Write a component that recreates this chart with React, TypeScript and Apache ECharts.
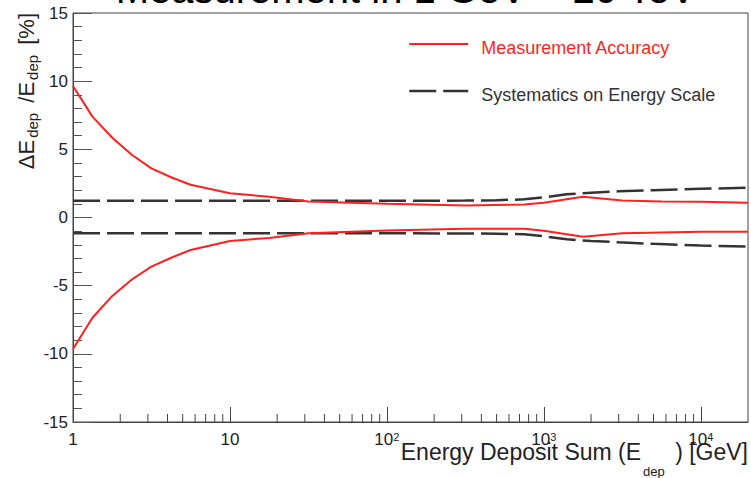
import React, { useEffect, useRef } from "react";
import * as echarts from "echarts";

// ---- data ----
const accuracyEnergy = [1, 1.33, 1.78, 2.37, 3.16, 4.22, 5.62, 10, 17.8, 31.6, 100, 316, 750, 1000, 1780, 3160, 5620, 10000, 20000];
const accuracyUpper = [9.65, 7.4, 5.85, 4.6, 3.6, 2.95, 2.4, 1.78, 1.52, 1.18, 1.0, 0.88, 0.95, 1.08, 1.52, 1.25, 1.17, 1.16, 1.08];
const accuracyLower = [-9.65, -7.35, -5.75, -4.55, -3.6, -2.95, -2.38, -1.72, -1.5, -1.15, -0.95, -0.82, -0.82, -0.98, -1.41, -1.15, -1.1, -1.05, -1.04];

const systematicsEnergy = [1, 100, 316, 500, 750, 1000, 1400, 2000, 3000, 5000, 10000, 20000];
const systematicsUpper = [1.22, 1.22, 1.24, 1.27, 1.33, 1.48, 1.7, 1.82, 1.92, 2.0, 2.1, 2.19];
const systematicsLower = [-1.16, -1.16, -1.17, -1.19, -1.23, -1.38, -1.6, -1.72, -1.82, -1.93, -2.05, -2.14];

const xMin = 1;
const xMax = 20000;
const yMin = -15;
const yMax = 15;
const yInterval = 5;

const decades = [1, 10, 100, 1000, 10000];
const minorMultipliers = [2, 3, 4, 5, 6, 7, 8, 9];

const titleText = "Measurement in 1 GeV ~ 20 TeV";
const legendAccuracy = "Measurement Accuracy";
const legendSystematics = "Systematics on Energy Scale";

const FONT = "'Liberation Sans', Arial, Helvetica, sans-serif";
const RED = "#ff1f1f";
const DARK = "#333333";
const DASH = [27, 7];

function pairs(xs: number[], ys: number[]) {
  return xs.map((x, i) => [x, ys[i]]);
}

export default function App() {
  const ref = useRef<HTMLDivElement>(null);

  useEffect(() => {
    if (!ref.current) return;
    const chart = echarts.init(ref.current, undefined, { renderer: "svg" });

    const minorTicks: number[][] = [];
    decades.forEach((d) => {
      minorMultipliers.forEach((m) => {
        const v = d * m;
        if (v > xMin && v < xMax) minorTicks.push([v, yMin]);
      });
    });

    const option: any = {
      animation: false,
      backgroundColor: "#ffffff",
      textStyle: { fontFamily: FONT },
      grid: {
        left: 73,
        right: 3,
        top: 13,
        bottom: 56,
        show: true,
        borderColor: "#444",
        borderWidth: 1,
        backgroundColor: "transparent",
      },
      legend: {
        data: [
          { name: legendAccuracy, textStyle: { color: RED }, lineStyle: { color: RED, width: 2, type: "solid" } },
          { name: legendSystematics, textStyle: { color: DARK }, lineStyle: { color: DARK, width: 2.5, type: DASH } },
        ],
        orient: "vertical",
        left: 408,
        top: 31,
        padding: 0,
        itemWidth: 59,
        itemHeight: 26,
        itemGap: 21,
        selectedMode: false,
        itemStyle: { opacity: 0 },
        formatter: (name: string) => "{t|" + name + "}",
        textStyle: {
          fontSize: 18,
          fontFamily: FONT,
          rich: {
            t: { fontSize: 18, lineHeight: 18, padding: [8, 0, 0, 8], fontFamily: FONT },
          },
        },
      },
      xAxis: {
        type: "log",
        logBase: 10,
        min: xMin,
        max: xMax,
        axisLine: { show: true, onZero: false, lineStyle: { color: "#444", width: 1 } },
        axisTick: { show: true, inside: true, length: 15, lineStyle: { color: "#444" } },
        splitLine: { show: false },
        axisLabel: {
          margin: 9,
          showMaxLabel: false,
          color: "#222",
          fontSize: 17,
          fontFamily: FONT,
          formatter: (value: number) => {
            const e = Math.round(Math.log10(value));
            if (Math.abs(Math.pow(10, e) - value) > 1e-6 * value) return "";
            if (e === 0) return "{b|1}";
            if (e === 1) return "{b|10}";
            return "{b|10}{sup|" + e + "}";
          },
          rich: {
            b: { fontSize: 17, lineHeight: 20, verticalAlign: "top", color: "#222", fontFamily: FONT },
            sup: { fontSize: 11, lineHeight: 11, verticalAlign: "top", color: "#222", fontFamily: FONT },
          },
        },
      },
      yAxis: {
        type: "value",
        min: yMin,
        max: yMax,
        interval: yInterval,
        axisLine: { show: true, onZero: false, lineStyle: { color: "#444", width: 1 } },
        axisTick: { show: true, inside: true, length: 19, lineStyle: { color: "#555" } },
        minorTick: { show: true, splitNumber: 5, length: 9, lineStyle: { color: "#555" } },
        splitLine: { show: false },
        axisLabel: { margin: 5, color: "#222", fontSize: 17, fontFamily: FONT },
      },
      series: [
        {
          name: legendAccuracy,
          type: "line",
          data: pairs(accuracyEnergy, accuracyUpper),
          symbol: "none",
          lineStyle: { color: RED, width: 2 },
          itemStyle: { color: RED },
          z: 3,
        },
        {
          name: legendAccuracy,
          type: "line",
          data: pairs(accuracyEnergy, accuracyLower),
          symbol: "none",
          lineStyle: { color: RED, width: 2 },
          itemStyle: { color: RED },
          z: 3,
        },
        {
          name: legendSystematics,
          type: "line",
          data: pairs(systematicsEnergy, systematicsUpper),
          symbol: "none",
          lineStyle: { color: DARK, width: 2.5, type: DASH },
          itemStyle: { color: DARK },
          z: 2,
        },
        {
          name: legendSystematics,
          type: "line",
          data: pairs(systematicsEnergy, systematicsLower),
          symbol: "none",
          lineStyle: { color: DARK, width: 2.5, type: DASH },
          itemStyle: { color: DARK },
          z: 2,
        },
        {
          name: "minorTicks",
          type: "custom",
          silent: true,
          clip: false,
          data: minorTicks,
          encode: { x: 0, y: 1 },
          renderItem: (_params: any, api: any) => {
            const p = api.coord([api.value(0), api.value(1)]);
            return {
              type: "line",
              shape: { x1: p[0], y1: p[1], x2: p[0], y2: p[1] - 8 },
              style: { stroke: "#444", lineWidth: 1 },
            };
          },
          z: 4,
        },
      ],
      graphic: [
        {
          type: "text",
          x: 406,
          y: 9,
          style: {
            text: titleText,
            fontSize: 40,
            fontFamily: FONT,
            fill: "#000",
            align: "center",
            verticalAlign: "bottom",
          },
        },
        {
          type: "text",
          x: 27,
          y: 13,
          rotation: Math.PI / 2,
          style: {
            text: "{m|ΔE}{s|dep}{m| /E}{s|dep}{m| [%]}",
            align: "right",
            verticalAlign: "middle",
            fill: "#222",
            rich: {
              m: { fontSize: 22, lineHeight: 24, verticalAlign: "top", fontFamily: FONT, fill: "#222" },
              s: { fontSize: 15, lineHeight: 15, padding: [10, 4, 0, 2], verticalAlign: "top", fontFamily: FONT, fill: "#222" },
            },
          },
        },
        {
          type: "text",
          x: 748,
          y: 440,
          style: {
            text: "{m|Energy Deposit Sum (E}{s|dep}{m| ) [GeV]}",
            align: "right",
            verticalAlign: "top",
            fill: "#222",
            rich: {
              m: { fontSize: 23, lineHeight: 24, verticalAlign: "top", fontFamily: FONT, fill: "#222" },
              s: { fontSize: 13, lineHeight: 13, padding: [25, 4, 0, 2], verticalAlign: "top", fontFamily: FONT, fill: "#222" },
            },
          },
        },
      ],
    };

    chart.setOption(option);
    return () => chart.dispose();
  }, []);

  return (
    <div
      ref={ref}
      style={{ position: "fixed", left: 0, top: 0, width: 751, height: 478, background: "#fff" }}
    />
  );
}
